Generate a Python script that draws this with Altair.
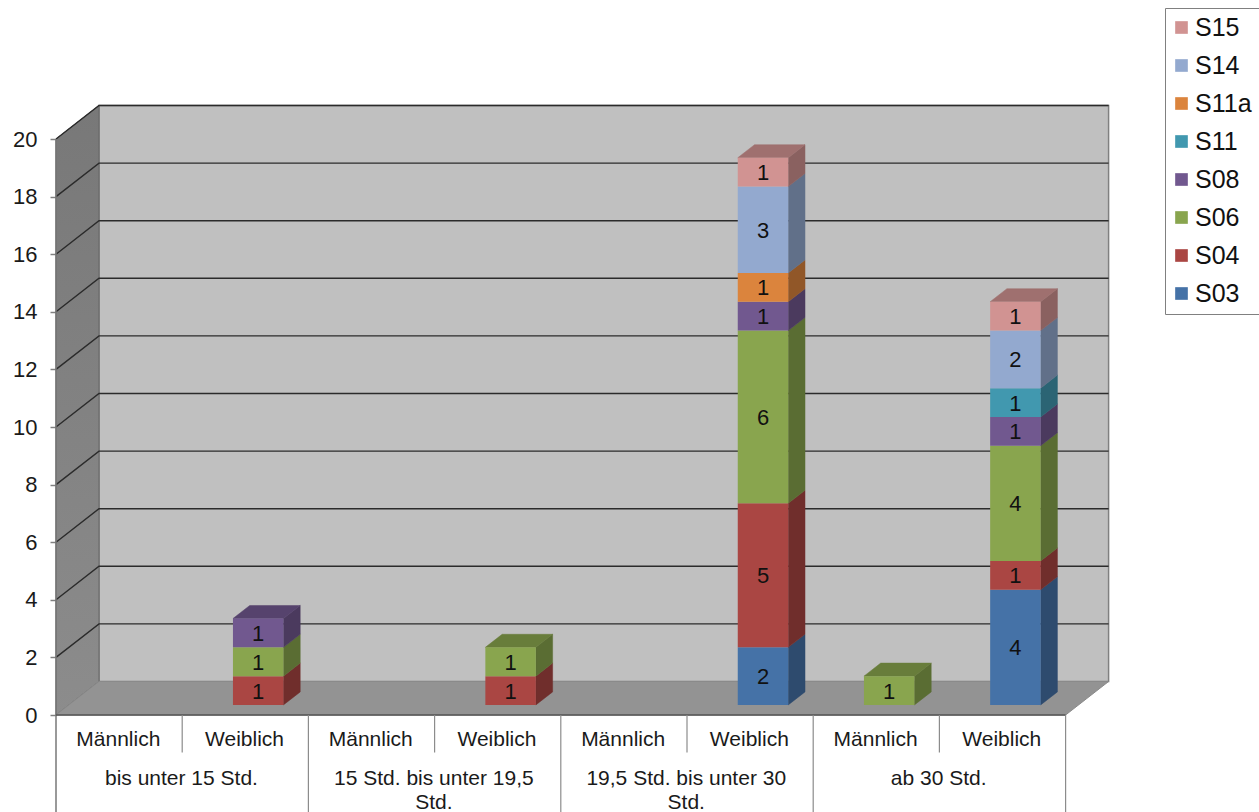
import altair as alt
import pandas as pd

# Stacked counts per working-hours band and gender
GENDERS = ["Männlich", "Weiblich"]
BANDS = [["bis unter 15 Std."],
         ["15 Std. bis unter 19,5", "Std."],
         ["19,5 Std. bis unter 30", "Std."],
         ["ab 30 Std."]]
SERIES = ["S03", "S04", "S06", "S08", "S11", "S11a", "S14", "S15"]
COLORS = ["#4572A7", "#AA4643", "#89A54E", "#71588F", "#4198AF", "#DB843D", "#93A9CF", "#D19392"]
S03 = [0, 0, 0, 0, 0, 2, 0, 4]
S04 = [0, 1, 0, 1, 0, 5, 0, 1]
S06 = [0, 1, 0, 1, 0, 6, 1, 4]
S08 = [0, 1, 0, 0, 0, 1, 0, 1]
S11 = [0, 0, 0, 0, 0, 0, 0, 1]
S11A = [0, 0, 0, 0, 0, 1, 0, 0]
S14 = [0, 0, 0, 0, 0, 3, 0, 2]
S15 = [0, 0, 0, 0, 0, 1, 0, 1]
VALUES = [S03, S04, S06, S08, S11, S11A, S14, S15]
Y_TICKS = list(range(0, 21, 2))

# Canvas and the scale of the front plane of the box
W, H = 1259, 812
ORIGIN_X, ORIGIN_Y = 56, 715
PX_PER_CAT, PX_PER_UNIT = 126.2, 28.8
x_scale = alt.Scale(domain=[-ORIGIN_X / PX_PER_CAT, (W - ORIGIN_X) / PX_PER_CAT], nice=False, zero=False)
y_scale = alt.Scale(domain=[(ORIGIN_Y - H) / PX_PER_UNIT, ORIGIN_Y / PX_PER_UNIT], nice=False, zero=False)

# Oblique depth of the box, in data units; bars sit part of the way into it
DEPTH_X, DEPTH_Y = 43 / PX_PER_CAT, 33.5 / PX_PER_UNIT
BAR_START, BAR_DEPTH, BAR_WIDTH = 0.3, 0.39, 0.4
N_CATS = 8


def shade(hex_color, factor):
    parts = [int(hex_color[i:i + 2], 16) for i in (1, 3, 5)]
    return "#" + "".join(f"{round(p * factor):02x}" for p in parts)


fronts, sides, tops = [], [], []
for cat in range(N_CATS):
    left = cat + 0.5 - BAR_WIDTH / 2 + BAR_START * DEPTH_X
    right = left + BAR_WIDTH
    base = BAR_START * DEPTH_Y
    heights = [(s, c, v[cat]) for s, c, v in zip(SERIES, COLORS, VALUES) if v[cat] > 0]
    for idx, (name, color, value) in enumerate(heights):
        low, high = base, base + value
        base = high
        face = f"{cat}-{name}"
        fronts.append(dict(series=name, x=left, x2=right, y=low, y2=high,
                           xm=(left + right) / 2, ym=(low + high) / 2, value=value))
        dx, dy = BAR_DEPTH * DEPTH_X, BAR_DEPTH * DEPTH_Y
        side = shade(color, 0.66)
        sides.append(dict(face=face, fill=side, x=right, y=low, y2=high))
        sides.append(dict(face=face, fill=side, x=right + dx, y=low + dy, y2=high + dy))
        if idx == len(heights) - 1:
            top = shade(color, 0.76)
            tops.append(dict(face=face, fill=top, y=high, x=left, x2=right))
            tops.append(dict(face=face, fill=top, y=high + dy, x=left + dx, x2=right + dx))

# The value axis sits on the front edge of the left wall
y_axis = alt.Axis(values=Y_TICKS, offset=-ORIGIN_X, domain=False, grid=False, tickSize=6,
                  tickColor="#808080", tickWidth=1.5, labelFontSize=22, labelColor="#1a1a1a",
                  labelFont="Liberation Sans", labelPadding=13, title=None, labelBound=False,
                  labelFlush=False)


def X(field="x"):
    return alt.X(f"{field}:Q", scale=x_scale, axis=None)


def Y(field="y"):
    return alt.Y(f"{field}:Q", scale=y_scale, axis=y_axis)


# Box: back wall, left wall, floor
wall_df = pd.DataFrame([dict(x=DEPTH_X, x2=N_CATS + DEPTH_X, y=DEPTH_Y, y2=20 + DEPTH_Y)])
back = alt.Chart(wall_df).mark_rect(fill="#C0C0C0", stroke="#808080", strokeWidth=1.5).encode(
    x=X(), x2="x2:Q", y=Y(), y2="y2:Q")

left_df = pd.DataFrame([dict(x=0, y=0, y2=20), dict(x=DEPTH_X, y=DEPTH_Y, y2=20 + DEPTH_Y)])
wall_fill = alt.Gradient(gradient="linear", x1=0, x2=0, y1=0, y2=1,
                         stops=[alt.GradientStop(offset=0, color="#787878"),
                                alt.GradientStop(offset=1, color="#8c8c8c")])
left_wall = alt.Chart(left_df).mark_area(fill=wall_fill, stroke="#666666", strokeWidth=1).encode(
    x=X(), y=Y(), y2="y2:Q")

floor_df = pd.DataFrame([dict(y=0, x=0, x2=N_CATS), dict(y=DEPTH_Y, x=DEPTH_X, x2=N_CATS + DEPTH_X)])
floor = alt.Chart(floor_df).mark_area(orient="horizontal", fill="#939393", stroke="#8a8a8a", strokeWidth=1).encode(
    y=Y(), x=X(), x2="x2:Q")

# Grid lines run along the left wall and across the back wall
grid_rows = []
for v in Y_TICKS[1:]:
    grid_rows += [dict(tick=v, x=0, y=v), dict(tick=v, x=DEPTH_X, y=v + DEPTH_Y),
                  dict(tick=v, x=N_CATS + DEPTH_X, y=v + DEPTH_Y)]
grid = alt.Chart(pd.DataFrame(grid_rows)).mark_line(color="#2b2b2b", strokeWidth=1.4).encode(
    x=X(), y=Y(), detail="tick:N", order="x:Q")

# Bars
side_layer = alt.Chart(pd.DataFrame(sides)).mark_area(strokeWidth=0.5).encode(
    x=X(), y=Y(), y2="y2:Q", detail="face:N",
    fill=alt.Fill("fill:N", scale=None), stroke=alt.Stroke("fill:N", scale=None))
top_layer = alt.Chart(pd.DataFrame(tops)).mark_area(orient="horizontal", strokeWidth=0.5).encode(
    y=Y(), x=X(), x2="x2:Q", detail="face:N",
    fill=alt.Fill("fill:N", scale=None), stroke=alt.Stroke("fill:N", scale=None))
legend = alt.Legend(title=None, orient="none", legendX=1165, legendY=8, strokeColor="#808080",
                    padding=7, rowPadding=12, symbolType="square", symbolSize=160,
                    symbolStrokeWidth=0, symbolOpacity=1, symbolOffset=-3, labelFontSize=25,
                    labelOffset=1, labelFont="Liberation Sans", labelColor="#111111", labelLimit=200)
front_layer = alt.Chart(pd.DataFrame(fronts)).mark_rect(opacity=1).encode(
    x=X(), x2="x2:Q", y=Y(), y2="y2:Q",
    color=alt.Color("series:N", legend=legend,
                    scale=alt.Scale(domain=SERIES[::-1], range=COLORS[::-1])))
value_labels = alt.Chart(pd.DataFrame(fronts)).mark_text(
    fontSize=22, font="Liberation Sans", color="#111111", baseline="middle", align="center", dy=1).encode(
    x=X("xm"), y=Y("ym"), text="value:Q")

# Two-level category axis below the floor
baseline = alt.Chart(pd.DataFrame([dict(x=0, y=0), dict(x=N_CATS, y=0)])).mark_line(
    color="#555555", strokeWidth=1.5).encode(x=X(), y=Y())
left_edge = alt.Chart(pd.DataFrame([dict(x=0, y=20), dict(x=0, y=(ORIGIN_Y - H) / PX_PER_UNIT)])).mark_line(
    color="#777777", strokeWidth=1.5).encode(x=X(), y=Y())

sep_rows = []
for c in range(1, N_CATS + 1):
    low = -1.3 if c % 2 else (ORIGIN_Y - H) / PX_PER_UNIT
    sep_rows += [dict(sep=c, x=c, y=0), dict(sep=c, x=c, y=low)]
separators = alt.Chart(pd.DataFrame(sep_rows)).mark_line(color="#8c8c8c", strokeWidth=1.2).encode(
    x=X(), y=Y(), detail="sep:N")

gender_df = pd.DataFrame([dict(x=c + 0.5 - 0.006, y=-0.83, label=GENDERS[c % 2]) for c in range(N_CATS)])
band_rows = []
for b, lines in enumerate(BANDS):
    for i, line in enumerate(lines):
        band_rows.append(dict(x=2 * b + 1 - 0.006, y=-2.2 - 0.83 * i, label=line))
axis_text = alt.Chart(pd.concat([gender_df, pd.DataFrame(band_rows)])).mark_text(
    fontSize=21, font="Liberation Sans", color="#1a1a1a", baseline="middle", align="center", dy=1).encode(
    x=X(), y=Y(), text="label:N")

chart = alt.layer(
    back, left_wall, floor, grid, left_edge, baseline, separators,
    side_layer, top_layer, front_layer, value_labels, axis_text
).resolve_scale(fill="independent", stroke="independent", color="independent").properties(
    width=W, height=H, padding=0, background="white",
    autosize=alt.AutoSizeParams(type="none")
).configure_view(stroke=None)

chart.save("out.html", embed_options={"renderer": "svg", "actions": False})
